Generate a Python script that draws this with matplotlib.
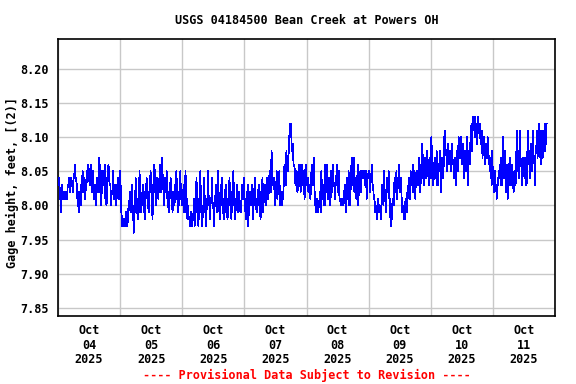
import numpy as np
import pandas as pd
import matplotlib
matplotlib.use("Agg")
import matplotlib.pyplot as plt

# Gage height readings every 15 minutes, in hundredths of a foot above 8.00 ft
oct04 = [3, 3, 4, 1, 1, -1, 3,
         1, 1, 2, 1, 1, 1, 2, 1,
         3, 3, 4, 2, 2, 4, 3, 3, 2, 4,
         4, 6, 4, 4, 3,
         1, 1, -1, 2, 2, 0,
         3, 3, 5, 2, 2, 4, 1, 3, 3, 5,
         5, 6, 4,
         3, 3, 6, 2, 2, 5, 1, 1,
         3, 3, 0, 4, 4,
         2, 2, 7, 3, 3, 0, 5, 5,
         3, 3, 6, 1, 1, 0, 4, 4,
         6, 4,
         3, 3, 0, 2, 2, 5, 1, 1, 3, 3, 0, 2, 2, 4, 1, 4]
oct05 = [5, 2, -1,
         -3, -3, -2, -2, -3, -3, -1, -3, -3, -2,
         0, 0, 2, -1, -1, 3, 0, 0, -4, -1, -1, 4, 1, 1, -2, 0, 0, 5, -1, -1,
         1, 1, 3, 0, 0, -2, 2, 2, 4, 1, 1, -1,
         2, 2, 5, 3, 3, -2, 2, 2, 6, 3, 3, 0, 4, 4, 1,
         3, 3, 6, 2, 2, 7, 3, 3, 0, 4,
         2, 2, 5, 1, 1, -1, 2, 2, 4, 1, 1, -1, 2, 2, 0, 3, 3, 5, 1, 1, -1, 2, 2, 5, 1, 1]
oct06 = [0, 0, 3, -1, -1, 5, 1, 1, -2, 0,
         -2, -2, -3, -1, -1, -3, -2, -2, 1, -3,
         -1, -1, 4, 0, 0, -3, 1, 1, 5, -1,
         -1, -3, 0, 0, 4, -1, -1, -3, 1, 1,
         5, 0, 0, -2, 1, 1, 4, 0, 0, -3,
         1, 1, 3, -1, -1, 5, 0, 0, -2, 2,
         2, 4, 0, 0, -2, 1, 1, 3, -1, -1,
         -2, 1, 1, 4, 0, 0, -2, 2, 2, 5,
         0, 0, -2, 1, 1, 3, -1, -1, 2, 0,
         0, -1, 3, 1, 1, 4]
oct07 = [1, 1, -2, 0, 0, 3, -3, 0, 0, 2,
         0, 0, 3, -2, 1, 1, 4, 0, 0, -1,
         1, 1, 3, 0, 0, -2, 2, 2, 4, -1, 1, 1, 3, 0, 0, 4, 1, 1,
         3, 5, 2, 2, 8, 3, 3,
         4, 4, 0, 2, 2, 5, 1, 3, 3, 5, 0,
         2, 2, 0, 1, 1,
         4, 6, 3, 3, 8, 5, 5, 7,
         9, 11, 12, 12, 9,
         8, 9, 6, 6, 5,
         3, 3, 5, 2, 3,
         6, 4, 4, 2, 6, 6, 3, 5,
         4, 1, 5, 6]
oct08 = [3, 3, 4, 2, 2, 3, 1, 3,
         6, 3, 3, 7, 4,
         0, 0, -1, 1, 1, -1, 0, 0, 2, -1,
         5, 1, 1, 3, 0, 0, 6, 2,
         2, 6, 1, 1, 4, 0, 0, 5, 2, 2,
         6, 3, 3, 1, 4, 4, 6, 2, 2, 5, 1, 1, 0,
         1, 1, 0, 0, 1,
         3, 3, -1, 4, 4, 1, 5, 0, 0, 2,
         5, 7, 3, 3, 7,
         2, 2, 4, 1, 1, 6, 0, 3, 3, 5, 2,
         5, 5, 4, 4, 5, 3, 3, 5, 1, 4, 4]
oct09 = [5, 5, 2, 4, 4, 6, 3, 3,
         1, 1, -1, 0, 0, -2, 1, 1, -1, 0, 0, -2,
         0, 3, 3, 0, 5, 1, 1, -1, 4, 4,
         2, 5, 1, 1, -3,
         -2, -2, 1,
         0, 0, 4, 2, 2, 5, 1, 3, 3, 6, 2, 2, 4, 1,
         -1, -1, 0, -2, -2, 1, -1, -1,
         2, 2, 4, 1, 1, 5, 3, 3, 6, 2, 2, 5, 1, 4, 4, 5,
         3, 3, 7, 2, 2, 6, 4, 9, 5, 5,
         3, 7, 4, 4, 8, 5, 5, 3, 7, 6]
oct10 = [4, 10, 6, 6, 3,
         5, 7, 7, 4, 8, 3, 3, 6, 5, 8, 8, 2, 7, 7, 4,
         6, 10, 11, 8, 8,
         5, 9, 9, 6, 8, 8, 5, 7,
         9, 6, 6, 4, 7, 7, 3,
         8, 8, 5, 10, 7, 7, 9, 10,
         6, 6, 9, 4, 8, 8, 5, 7, 10, 3, 8, 8,
         6, 9, 10, 12, 8, 13, 11,
         11, 13, 10, 12, 12, 9, 13, 11, 11, 12,
         9, 9, 11, 7, 10, 10, 8, 6, 9, 9, 7, 10,
         8, 6, 6, 5, 7, 3, 8]
oct11 = [4, 4, 2, 5, 3,
         3, 1, 3, 3, 5, 4, 4,
         7, 3, 3, 6, 10, 4, 4, 8, 2, 6, 6, 1, 5,
         5, 7, 3, 3, 6, 4, 4, 2, 5, 5,
         3, 6, 11, 5, 5, 8, 4, 11, 6,
         6, 3, 7, 5, 5, 4, 7, 3,
         3, 6, 11, 6, 6, 8, 4, 9, 9, 5, 11, 7,
         7, 3, 8, 8, 11, 7, 9, 12,
         8, 8, 6, 11, 10, 7, 11, 11, 8, 12, 9, 12]

hundredths = oct04 + oct05 + oct06 + oct07 + oct08 + oct09 + oct10 + oct11
gage = 8.00 + np.array(hundredths) / 100.0
times = pd.date_range("2025-10-04 00:00", periods=len(gage), freq="15min")

day_starts = pd.date_range("2025-10-04", "2025-10-12", freq="D")
label_pos = day_starts[:-1] + pd.Timedelta(hours=12)
day_labels = [d.strftime("%b\n%d\n%Y") for d in day_starts[:-1]]
y_ticks = [7.85, 7.90, 7.95, 8.00, 8.05, 8.10, 8.15, 8.20]

plt.rcParams["font.family"] = "DejaVu Sans Mono"
plt.rcParams["font.weight"] = "bold"
fs = 8.5

fig = plt.figure(figsize=(5.76, 3.84), dpi=100)
ax = fig.add_axes([58 / 576, 1 - 316 / 384, (555 - 58) / 576, (316 - 39) / 384])

ax.plot(times, gage, color="#0000ff", linewidth=0.6, antialiased=False, zorder=3)

ax.set_xlim(day_starts[0], day_starts[-1])
ax.set_ylim(7.838, 8.244)

# grid lines at midnight, date labels at noon
ax.set_xticks(day_starts)
ax.set_xticklabels([])
ax.set_xticks(label_pos, minor=True)
ax.set_xticklabels(day_labels, minor=True, fontsize=fs, fontweight="bold",
                   linespacing=1.15)
ax.tick_params(axis="x", which="both", length=0)
ax.tick_params(axis="x", which="minor", pad=6)
ax.grid(True, which="major", axis="x", color="#c8c8c8", linewidth=1.0)

ax.set_yticks(y_ticks)
ax.set_yticklabels([f"{v:.2f}" for v in y_ticks], fontsize=fs, fontweight="bold")
ax.tick_params(axis="y", length=0, pad=7)
ax.grid(True, which="major", axis="y", color="#c8c8c8", linewidth=1.0)
ax.set_axisbelow(True)

for sp in ax.spines.values():
    sp.set_linewidth(1.2)
    sp.set_color("black")

fig.text(12 / 576, 1 - 183 / 384, "Gage height, feet, [(2)]", rotation=90,
         ha="center", va="center", fontsize=fs, fontweight="bold")
fig.text(306.5 / 576, 1 - 20 / 384, "USGS 04184500 Bean Creek at Powers OH",
         ha="center", va="center", fontsize=fs, fontweight="bold")
fig.text(306.5 / 576, 1 - 375 / 384, "---- Provisional Data Subject to Revision ----",
         ha="center", va="center", fontsize=fs, fontweight="bold", color="red")

fig.savefig("out.png", dpi=100)
